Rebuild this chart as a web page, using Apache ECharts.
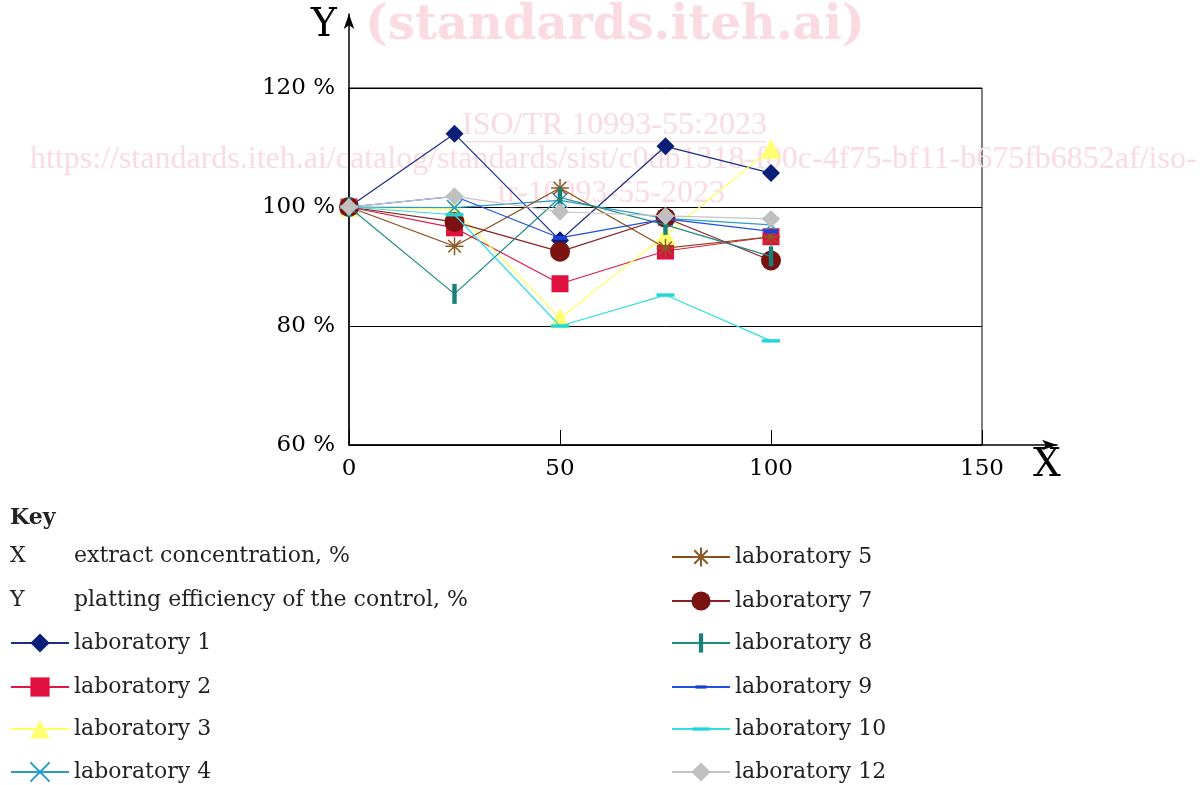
<!DOCTYPE html>
<html><head><meta charset="utf-8">
<script src="https://cdn.jsdelivr.net/npm/echarts@6/dist/echarts.min.js"></script>
<style>html,body{margin:0;padding:0;background:#fff}#c{width:1204px;height:785px}</style>
</head><body><div id="c"></div>
<script>
const xValues = [0, 25, 50, 75, 100];
const lab1  = [100, 112.3, 94.4, 110.2, 105.7];
const lab2  = [100, 96.5, 87.1, 92.6, 95.0];
const lab3  = [100, 99.6, 81.3, 95.3, 109.8];
const lab4  = [100, 99.9, 101.1, 98.1, 97.0];
const lab5  = [100, 93.4, 103.2, 93.1, 95.0];
const lab7  = [100, 97.5, 92.5, 98.2, 91.0];
const lab8  = [100, 85.4, 101.6, 97.0, 91.7];
const lab9  = [100, 101.8, 94.8, 98.0, 95.9];
const lab10 = [100, 98.7, 80.0, 85.2, 77.5];
const lab12 = [100, 101.8, 99.2, 98.5, 98.0];
const seriesNames = ['laboratory 1','laboratory 2','laboratory 3','laboratory 4','laboratory 5','laboratory 7','laboratory 8','laboratory 9','laboratory 10','laboratory 12'];
const yTicks = [60, 80, 100, 120];
const xTicks = [0, 50, 100, 150];

const FONT = 'DejaVu Serif';
const pair = arr => xValues.map((x, i) => [x, arr[i]]);
const CROSS = 'path://M0,0L10,10M10,0L0,10';
const STAR = 'path://M0,5L10,5M5,0L5,10M1.5,1.5L8.5,8.5M8.5,1.5L1.5,8.5';
const BAR = 'path://M0,0M20,20M7.8,0L12.2,0L12.2,20L7.8,20Z';
const DASH9 = 'path://M0,0M24,24M5,10L19,10L19,14L5,14Z';
const DASH10 = 'path://M0,0M20,20M1,8.3L19,8.3L19,11.7L1,11.7Z';

const styles = [
  {data: lab1, color: '#0b1f78', line: '#1b2d85', symbol: 'diamond', size: 18},
  {data: lab2, color: '#e0103f', line: '#e0184a', symbol: 'rect', size: 17},
  {data: lab3, color: '#ffff70', line: '#ffff60', symbol: 'triangle', size: 20},
  {data: lab4, color: 'rgba(0,0,0,0)', line: '#2a9ccc', symbol: CROSS, size: 15, border: '#1f9ccc'},
  {data: lab5, color: 'rgba(0,0,0,0)', line: '#8b4a14', symbol: STAR, size: 18, border: '#8b5a24'},
  {data: lab7, color: '#7a1212', line: '#8c2020', symbol: 'circle', size: 20},
  {data: lab8, color: '#17807a', line: '#1f8a84', symbol: BAR, size: 20},
  {data: lab9, color: '#1a40d8', line: '#2050e0', symbol: DASH9, size: 24},
  {data: lab10, color: '#1ed8d8', line: '#30e0e0', symbol: DASH10, size: 20},
  {data: lab12, color: '#c0c0c0', line: '#c4c4c4', symbol: 'diamond', size: 18}
];

const series = styles.map((s, i) => ({
  name: seriesNames[i],
  type: 'line',
  xAxisIndex: 0, yAxisIndex: 0,
  data: pair(s.data),
  symbol: s.symbol,
  symbolSize: s.size,
  lineStyle: {color: s.line, width: 1.2},
  itemStyle: s.border ? {color: s.color, borderColor: s.border, borderWidth: 1.5} : {color: s.color, borderWidth: 0},
  clip: false,
  z: 3 + i,
  animation: false
}));

// legend layout: [left, row centre y]
const legendPos = [[10,643],[10,687],[10,729],[10,772],[671,557],[671,601],[671,643],[671,687],[671,729],[671,772]];
const legends = seriesNames.map((n, i) => ({
  data: [n], orient: 'vertical', left: legendPos[i][0], top: legendPos[i][1] - 12, padding: 0,
  itemWidth: 58, itemHeight: 24, selectedMode: false,
  textStyle: {fontFamily: FONT, fontSize: 22, color: '#222', lineHeight: 24}
}));

const wm = '#fadbe2';
const chart = echarts.init(document.getElementById('c'), null, {renderer: 'canvas'});
chart.setOption({
  animation: false,
  backgroundColor: '#fff',
  grid: [
    {left: 349, top: 88, width: 633, height: 357, show: true, borderColor: '#000', borderWidth: 1, backgroundColor: 'transparent'},
    {left: 349, top: 14, width: 708, height: 431, show: false}
  ],
  xAxis: [
    {type: 'value', gridIndex: 0, min: xTicks[0], max: xTicks[xTicks.length - 1], interval: 50,
     axisLine: {show: false}, axisTick: {show: true, inside: true, length: 15, lineStyle: {color: '#000'}},
     splitLine: {show: false},
     axisLabel: {fontFamily: FONT, fontSize: 23, color: '#000', margin: 13}},
    {type: 'value', gridIndex: 1, min: 0, max: 1, axisLine: {show: true, symbol: ['none', 'arrow'], symbolSize: [8, 15], lineStyle: {color: '#000', width: 1.5}},
     axisTick: {show: false}, axisLabel: {show: false}, splitLine: {show: false}}
  ],
  yAxis: [
    {type: 'value', gridIndex: 0, min: yTicks[0], max: yTicks[yTicks.length - 1], interval: 20,
     axisLine: {show: false}, axisTick: {show: false},
     splitLine: {show: true, lineStyle: {color: '#000', width: 1}},
     axisLabel: {fontFamily: FONT, fontSize: 23, color: '#000', margin: 14, formatter: v => v + ' %'}},
    {type: 'value', gridIndex: 1, min: 0, max: 1, axisLine: {show: true, symbol: ['none', 'arrow'], symbolSize: [8, 15], lineStyle: {color: '#000', width: 1.5}},
     axisTick: {show: false}, axisLabel: {show: false}, splitLine: {show: false}}
  ],
  legend: legends,
  graphic: [
    {type: 'text', left: 365, top: 3, z: 0, style: {text: '(standards.iteh.ai)', font: 'bold 48px "DejaVu Serif"', fill: wm}},
    {type: 'text', left: 462, top: 110, z: 0, style: {text: 'ISO/TR 10993-55:2023', font: '32px "Liberation Serif"', fill: wm}},
    {type: 'rect', left: 462, top: 141, z: 0, shape: {width: 304, height: 1.5}, style: {fill: wm}},
    {type: 'text', left: 30, top: 144, z: 0, style: {text: 'https://standards.iteh.ai/catalog/standards/sist/c0db1318-f00c-4f75-bf11-b675fb6852af/iso-', font: '32px "Liberation Serif"', fill: wm}},
    {type: 'text', left: 498, top: 178, z: 0, style: {text: 'tr-10993-55-2023', font: '32px "Liberation Serif"', fill: wm}},
    {type: 'text', left: 311, top: 6, style: {text: 'Y', font: '39px "DejaVu Serif"', fill: '#000'}},
    {type: 'text', left: 1033, top: 446, style: {text: 'X', font: '39px "DejaVu Serif"', fill: '#000'}},
    {type: 'text', left: 10, top: 507, style: {text: 'Key', font: 'bold 22px "DejaVu Serif"', fill: '#222'}},
    {type: 'text', left: 10, top: 545, style: {text: 'X', font: '22px "DejaVu Serif"', fill: '#222'}},
    {type: 'text', left: 74, top: 545, style: {text: 'extract concentration, %', font: '22px "DejaVu Serif"', fill: '#222'}},
    {type: 'text', left: 10, top: 589, style: {text: 'Y', font: '22px "DejaVu Serif"', fill: '#222'}},
    {type: 'text', left: 74, top: 589, style: {text: 'platting efficiency of the control, %', font: '22px "DejaVu Serif"', fill: '#222'}}
  ],
  series: series
});
</script></body></html>
